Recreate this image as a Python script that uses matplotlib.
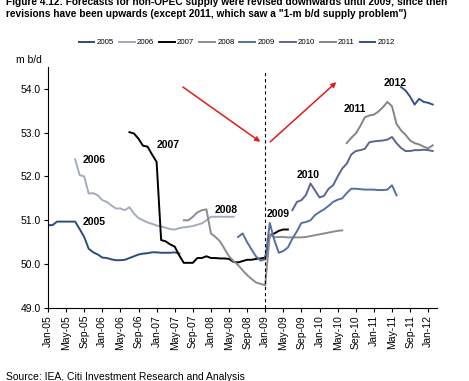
import matplotlib
matplotlib.use("Agg")
import matplotlib.pyplot as plt

plt.rcParams['font.family'] = ['Liberation Sans', 'DejaVu Sans']

# month index: 0 = Jan-05
tick_labels = ['Jan-05', 'May-05', 'Sep-05', 'Jan-06', 'May-06', 'Sep-06',
               'Jan-07', 'May-07', 'Sep-07', 'Jan-08', 'May-08', 'Sep-08',
               'Jan-09', 'May-09', 'Sep-09', 'Jan-10', 'May-10', 'Sep-10',
               'Jan-11', 'May-11', 'Sep-11', 'Jan-12']
tick_pos = [4 * i for i in range(len(tick_labels))]

years = ['2005', '2006', '2007', '2008', '2009', '2010', '2011', '2012']
start_month = [0, 6, 18, 30, 42, 54, 66, 78]

v2005 = [50.89, 50.89, 50.97, 50.97, 50.97, 50.97, 50.97, 50.80, 50.62, 50.35,
         50.27, 50.22, 50.15, 50.14, 50.11, 50.09, 50.09, 50.10, 50.14, 50.18,
         50.22, 50.24, 50.25, 50.27, 50.27, 50.26, 50.26, 50.26, 50.27, 50.24]
v2006 = [52.39, 52.03, 52.00, 51.61, 51.62, 51.57, 51.46, 51.42, 51.34, 51.27,
         51.27, 51.23, 51.30, 51.15, 51.05, 51.00, 50.95, 50.92, 50.88, 50.86,
         50.83, 50.80, 50.79, 50.82, 50.84, 50.85, 50.87, 50.90, 50.93, 51.00,
         51.08, 51.08, 51.08, 51.08, 51.08, 51.08]
v2007 = [53.01, 52.98, 52.86, 52.70, 52.68, 52.50, 52.33, 50.55, 50.52, 50.45,
         50.40, 50.20, 50.03, 50.03, 50.03, 50.14, 50.14, 50.18, 50.14, 50.14,
         50.13, 50.13, 50.12, 50.05, 50.04, 50.07, 50.10, 50.10, 50.12, 50.13,
         50.15, 50.66, 50.70, 50.76, 50.79, 50.79]
v2008 = [51.00, 51.00, 51.08, 51.18, 51.23, 51.25, 50.70, 50.62, 50.52, 50.35,
         50.18, 50.07, 49.98, 49.86, 49.75, 49.66, 49.58, 49.55, 49.52, 50.68,
         50.61, 50.62, 50.62, 50.61, 50.61, 50.61, 50.61, 50.62, 50.64, 50.66,
         50.68, 50.70, 50.72, 50.74, 50.76, 50.77]
v2009 = [50.62, 50.70, 50.50, 50.33, 50.17, 50.08, 50.11, 50.94, 50.55, 50.26,
         50.30, 50.38, 50.58, 50.75, 50.94, 50.96, 51.00, 51.12, 51.19, 51.25,
         51.33, 51.42, 51.47, 51.50, 51.62, 51.72, 51.72, 51.71, 51.70, 51.70,
         51.70, 51.69, 51.69, 51.70, 51.80, 51.57]
v2010 = [51.23, 51.42, 51.46, 51.58, 51.84, 51.68, 51.52, 51.56, 51.72, 51.80,
         52.00, 52.18, 52.29, 52.50, 52.58, 52.60, 52.63, 52.78, 52.80, 52.81,
         52.82, 52.84, 52.90, 52.76, 52.65, 52.58, 52.58, 52.60, 52.60, 52.61,
         52.60, 52.58]
v2011 = [52.76, 52.88, 52.98, 53.15, 53.35, 53.39, 53.41, 53.48, 53.58, 53.70,
         53.60, 53.20, 53.05, 52.95, 52.82, 52.76, 52.73, 52.68, 52.64, 52.71]
v2012 = [54.04, 53.96, 53.82, 53.64, 53.77, 53.70, 53.68, 53.64]

series = [v2005, v2006, v2007, v2008, v2009, v2010, v2011, v2012]
colors = ['#2f4a7c', '#a3acbf', '#000000', '#8c8c8c', '#5470a2', '#5a6594',
          '#858585', '#34508a']

# in-chart year labels (month, value)
label_x = [10.3, 10.3, 26.5, 39.3, 50.9, 57.5, 67.7, 76.8]
label_y = [50.96, 52.37, 52.71, 51.23, 51.14, 52.03, 53.53, 54.14]

fig = plt.figure(figsize=(4.69, 3.81), dpi=100)
ax = fig.add_axes([0.1023, 0.1916, 0.830, 0.633])

for name, s0, vals, c in zip(years, start_month, series, colors):
    ax.plot(range(s0, s0 + len(vals)), vals, color=c, lw=1.4, label=name)

for name, lx, ly in zip(years, label_x, label_y):
    ax.text(lx, ly, name, fontsize=7.5, fontweight='bold', ha='center', va='center')

ax.axvline(48, color='black', lw=0.8, ls=(0, (3, 2.5)), ymin=0, ymax=0.98,
           clip_on=False)

arrow = dict(arrowstyle='-|>', color='#e01b1b', lw=1.1, mutation_scale=7,
             shrinkA=0, shrinkB=0)
ax.annotate('', xy=(46.9, 52.79), xytext=(29.8, 54.04), arrowprops=arrow)
ax.annotate('', xy=(63.7, 54.15), xytext=(49.1, 52.79), arrowprops=arrow)

ax.set_xlim(0, 86)
ax.set_ylim(49, 54.5)
ax.set_yticks([49, 50, 51, 52, 53, 54])
ax.set_yticklabels(['49.0', '50.0', '51.0', '52.0', '53.0', '54.0'])
ax.set_xticks(tick_pos)
ax.set_xticklabels(tick_labels, rotation=90)
ax.tick_params(labelsize=7.5, length=3, width=0.8, pad=2)
for sp in ['top', 'right']:
    ax.spines[sp].set_visible(False)
for sp in ['left', 'bottom']:
    ax.spines[sp].set_linewidth(0.8)

fig.legend(loc='center', bbox_to_anchor=(0.505, 0.888), ncol=8, frameon=False,
           fontsize=5.7, handlelength=2.0, columnspacing=0.6, handletextpad=0.3)

fig.text(0.013, 1 - 2 / 381, 'Figure 4.12: Forecasts for non-OPEC supply were revised downwards until 2009; since then',
         fontsize=7.3, fontweight='bold', va='center')
fig.text(0.013, 1 - 14 / 381, 'revisions have been upwards (except 2011, which saw a "1-m b/d supply problem")',
         fontsize=7.3, fontweight='bold', va='center')
fig.text(0.034, 1 - 60 / 381, 'm b/d', fontsize=7.5, va='center')
fig.text(0.013, 1 - 377 / 381, 'Source: IEA, Citi Investment Research and Analysis',
         fontsize=7.5, va='center')

fig.savefig('out.png', dpi=100)
